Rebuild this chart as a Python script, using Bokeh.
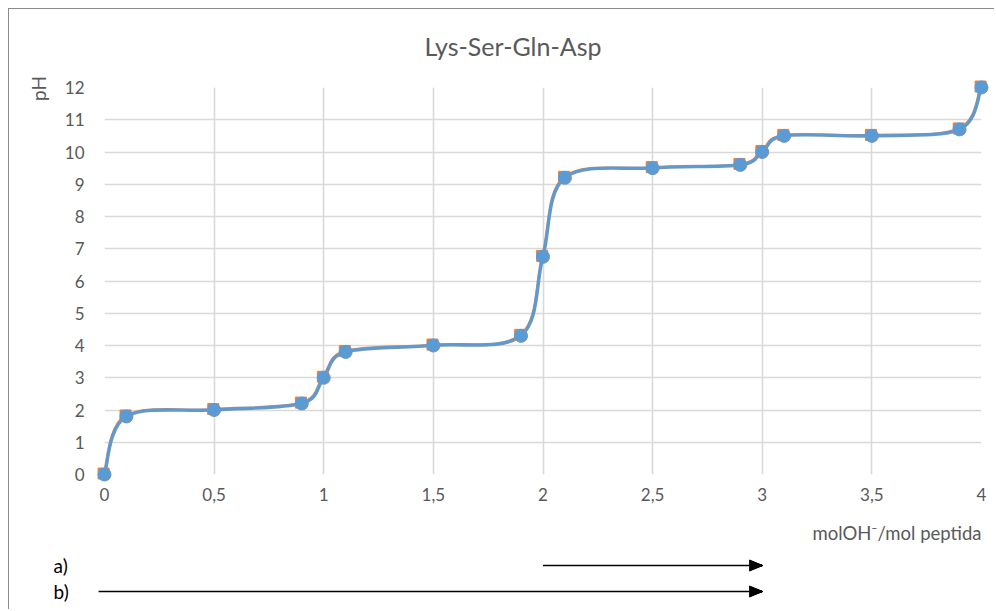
import math
from bokeh.plotting import figure
from bokeh.models import FixedTicker
from bokeh.core.properties import value
from bokeh.embed import file_html
from bokeh.resources import INLINE

# ---- data ----
x_mol = [0, 0.1, 0.5, 0.9, 1.0, 1.1, 1.5, 1.9, 2.0, 2.1, 2.5, 2.9, 3.0, 3.1, 3.5, 3.9, 4.0]
ph_blue = [0.0, 1.8, 2.0, 2.2, 3.0, 3.8, 4.0, 4.3, 6.75, 9.2, 9.5, 9.6, 10.0, 10.5, 10.5, 10.7, 12.0]
x_mol_orange = [-0.004, 0.096, 0.496, 0.896, 0.996, 1.096, 1.496, 1.896, 1.996, 2.096, 2.496, 2.896, 2.996, 3.096, 3.496, 3.896, 3.996]
ph_orange = [0.03, 1.83, 2.03, 2.23, 3.03, 3.83, 4.03, 4.33, 6.78, 9.23, 9.53, 9.63, 10.03, 10.53, 10.53, 10.73, 12.03]

x_ticks = [0, 0.5, 1, 1.5, 2, 2.5, 3, 3.5, 4]
x_tick_labels = ["0", "0,5", "1", "1,5", "2", "2,5", "3", "3,5", "4"]
y_ticks = list(range(0, 13))

title_text = "Lys-Ser-Gln-Asp"
x_label = "molOH\u207b/mol peptida"
y_label = "pH"
arrow_names = ["a)", "b)"]
arrow_start = [2.0, -0.027]
arrow_end = [3.0, 3.0]

FONT = "Lato"
GREY = "#595959"
BLUE = "#5B9BD5"
ORANGE = "#ED7D31"

X_START, X_END, Y_START, Y_END = 0, 4, 0, 12
FRAME_W, FRAME_H = 878, 387
PX_X = FRAME_W / (X_END - X_START)   # pixels per x unit
PX_Y = FRAME_H / (Y_END - Y_START)   # pixels per y unit


def smooth_bezier(xs, ys):
    """Excel-like smoothing: cubic Bezier segments through the points."""
    n = len(xs)
    out = dict(x0=[], y0=[], x1=[], y1=[], cx0=[], cy0=[], cx1=[], cy1=[])
    for i in range(n - 1):
        a = i - 1 if i > 0 else i
        d = i + 2 if i + 2 < n else i + 1
        out["x0"].append(xs[i]); out["y0"].append(ys[i])
        out["x1"].append(xs[i + 1]); out["y1"].append(ys[i + 1])
        out["cx0"].append(xs[i] + (xs[i + 1] - xs[a]) / 6.0)
        out["cy0"].append(ys[i] + (ys[i + 1] - ys[a]) / 6.0)
        out["cx1"].append(xs[i + 1] - (xs[d] - xs[i]) / 6.0)
        out["cy1"].append(ys[i + 1] - (ys[d] - ys[i]) / 6.0)
    return out


p = figure(width=986, height=601, x_range=(X_START, X_END), y_range=(Y_START, Y_END),
           output_backend="svg", toolbar_location=None, title=None,
           min_border_left=95, min_border_right=14, min_border_top=78,
           min_border_bottom=136)
p.styles = {"margin-left": "8px", "margin-top": "8px",
            "border-top": "1px solid #8c8c8c", "border-left": "1px solid #8c8c8c"}
p.outline_line_color = None
p.background_fill_color = "white"
p.border_fill_color = "white"

# axes
p.xaxis.ticker = FixedTicker(ticks=x_ticks)
p.xaxis.major_label_overrides = dict(zip(x_ticks, x_tick_labels))
p.yaxis.ticker = FixedTicker(ticks=y_ticks)
for ax in (p.xaxis, p.yaxis):
    ax.axis_line_color = None
    ax.major_tick_line_color = None
    ax.minor_tick_line_color = None
    ax.major_label_text_font = FONT
    ax.major_label_text_font_size = "17px"
    ax.major_label_text_color = GREY
p.xaxis.major_label_standoff = 7
p.yaxis.major_label_standoff = 14

p.xgrid.ticker = FixedTicker(ticks=x_ticks)
p.ygrid.ticker = FixedTicker(ticks=y_ticks)
p.grid.grid_line_color = "#D9D9D9"
p.grid.grid_line_width = 1.6

# smoothed lines
so = smooth_bezier(x_mol_orange, ph_orange)
sb = smooth_bezier(x_mol, ph_blue)
p.bezier(**so, line_color=ORANGE, line_width=2, level="overlay")
p.bezier(**sb, line_color=BLUE, line_width=3.2, level="overlay")

# markers
p.scatter(x_mol_orange, ph_orange, marker="square", size=11, color=ORANGE, level="overlay")
p.scatter(x_mol, ph_blue, marker="circle", size=13, color=BLUE, level="overlay")

# texts (as glyphs drawn outside the frame)
p.text(x=[(512 - 103) / PX_X], y=[(474 - 45) / PX_Y], text=[title_text],
       text_align="center", text_baseline="middle", text_font=value(FONT),
       text_font_size="25px", text_color=GREY, level="overlay")
p.text(x=[(37 - 103) / PX_X], y=[(474 - 88) / PX_Y], text=[y_label], angle=math.pi / 2,
       text_align="center", text_baseline="middle", text_font=value(FONT),
       text_font_size="19px", text_color=GREY, level="overlay")
p.text(x=[X_END], y=[(474 - 532) / PX_Y], text=[x_label], text_align="right",
       text_baseline="middle", text_font=value(FONT), text_font_size="18.5px",
       text_color=GREY, level="overlay")

# arrows a) and b)
arrow_y = [(474 - 565) / PX_Y, (474 - 591) / PX_Y]
head_len, head_half, n_fan = 13, 5.5, 23
p.text(x=[(52 - 103) / PX_X] * 2, y=arrow_y, text=arrow_names, text_align="left",
       text_baseline="middle", text_font=value(FONT), text_font_size="19px",
       text_color="black", level="overlay")
p.segment(x0=arrow_start, y0=arrow_y,
          x1=[xe - head_len / PX_X for xe in arrow_end], y1=arrow_y,
          line_color="black", line_width=1.3, level="overlay")
# arrow heads: a fan of strokes from the tip to the base of the triangle
fx0, fy0, fx1, fy1 = [], [], [], []
for xe, yy in zip(arrow_end, arrow_y):
    for k in range(n_fan):
        off = -head_half + 2 * head_half * k / (n_fan - 1)
        fx0.append(xe); fy0.append(yy)
        fx1.append(xe - head_len / PX_X); fy1.append(yy + off / PX_Y)
p.segment(x0=fx0, y0=fy0, x1=fx1, y1=fy1, line_color="black", line_width=1.2,
          level="overlay")

open("out.html", "w").write(file_html(p, INLINE))
